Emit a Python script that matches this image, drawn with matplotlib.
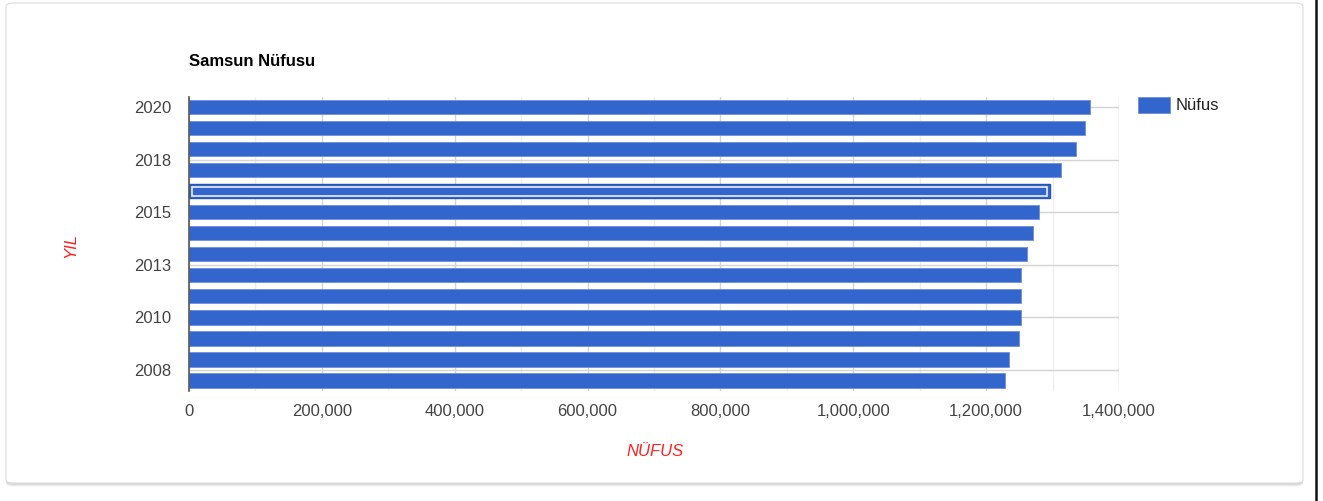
import matplotlib.pyplot as plt
from matplotlib.patches import FancyBboxPatch
from matplotlib.lines import Line2D
from matplotlib.ticker import FuncFormatter, MultipleLocator

plt.rcParams['font.family'] = ['Liberation Sans', 'DejaVu Sans']

years = [2020, 2019, 2018, 2017, 2016, 2015, 2014, 2013, 2012, 2011, 2010, 2009, 2008, 2007]
population = [1356079, 1348542, 1335716, 1312990, 1295927, 1279884, 1269989,
              1261810, 1251729, 1251722, 1252693, 1250076, 1233677, 1228959]
year_ticks = [2020, 2017.5, 2015, 2012.5, 2010, 2007.5]
pop_ticks = [0, 200000, 400000, 600000, 800000, 1000000, 1200000, 1400000]
selected_year = 2016

BLUE = '#3366cc'
W, H = 1323, 501

fig = plt.figure(figsize=(W / 100, H / 100), dpi=100)
fig.patch.set_facecolor('white')

# card with soft shadow
for i, a in enumerate([0.03, 0.05, 0.07]):
    off = 3 - i
    fig.patches.append(FancyBboxPatch((6 / W, (H - 484 - off) / H), 1297 / W, 482 / H,
                                      boxstyle='round,pad=0,rounding_size=0.006',
                                      transform=fig.transFigure, facecolor='black',
                                      edgecolor='none', alpha=a, zorder=0))
fig.patches.append(FancyBboxPatch((6 / W, (H - 483) / H), 1297 / W, 480 / H,
                                  boxstyle='round,pad=0,rounding_size=0.006',
                                  transform=fig.transFigure, facecolor='white',
                                  edgecolor='#dcdcdc', linewidth=0.8, zorder=1))
fig.lines.append(Line2D([1316 / W, 1316 / W], [0, 1], transform=fig.transFigure,
                        color='#111111', linewidth=1.8, zorder=2))

ax = fig.add_axes([189 / W, 1 - 391 / H, 930 / W, 294.5 / H])
ax.set_facecolor('none')
ax.set_zorder(3)

ax.barh(years, population, height=0.68, color=BLUE, edgecolor='#6f8fdc',
        linewidth=0.6, zorder=3)

# hovered bar outline
i = years.index(selected_year)
ax.barh(selected_year, population[i], height=0.68, color=BLUE,
        edgecolor='#2a55b0', linewidth=1.0, zorder=4)
ax.barh(selected_year, population[i] - 8000, left=4000, height=0.42, color='none',
        edgecolor='#e8eefa', linewidth=1.2, zorder=5)

ax.set_xlim(0, 1400000)
ax.set_ylim(2006.5, 2020.5)

ax.set_xticks(pop_ticks)
ax.xaxis.set_minor_locator(MultipleLocator(100000))
ax.xaxis.set_major_formatter(FuncFormatter(lambda v, p: f'{int(v):,}'))
ax.set_yticks(year_ticks)
ax.yaxis.set_major_formatter(FuncFormatter(lambda v, p: f'{int(round(v + 0.01))}'))

ax.grid(axis='x', which='major', color='#d4d4d4', linewidth=1.0, zorder=0)
ax.grid(axis='x', which='minor', color='#eeeeee', linewidth=1.0, zorder=0)
ax.grid(axis='y', which='major', color='#d4d4d4', linewidth=1.0, zorder=0)
ax.set_axisbelow(True)

for s in ['top', 'right', 'bottom']:
    ax.spines[s].set_visible(False)
ax.spines['left'].set_color('#555555')
ax.spines['left'].set_linewidth(1.2)
ax.spines['left'].set_zorder(6)

ax.tick_params(axis='both', which='both', length=0, labelsize=12, labelcolor='#444444')
ax.tick_params(axis='x', pad=9)
ax.tick_params(axis='y', pad=13)

fig.text(189 / W, 1 - 62 / H, 'Samsun Nüfusu', fontsize=12, fontweight='bold',
         color='black', va='center', ha='left')
fig.text(655 / W, 1 - 452 / H, 'NÜFUS', fontsize=12, fontstyle='italic',
         color='#ff2222', va='center', ha='center')
fig.text(71 / W, 1 - 245 / H, 'YIL', fontsize=12, fontstyle='italic',
         color='#ff2222', va='center', ha='center', rotation=90)

# legend
fig.patches.append(plt.Rectangle((1138 / W, 1 - 113 / H), 32 / W, 16 / H,
                                 transform=fig.transFigure, facecolor=BLUE,
                                 edgecolor='#6f8fdc', linewidth=0.6, zorder=4))
fig.text(1176 / W, 1 - 105 / H, 'Nüfus', fontsize=12, color='#222222',
         va='center', ha='left')

fig.savefig('out.png', dpi=100)
